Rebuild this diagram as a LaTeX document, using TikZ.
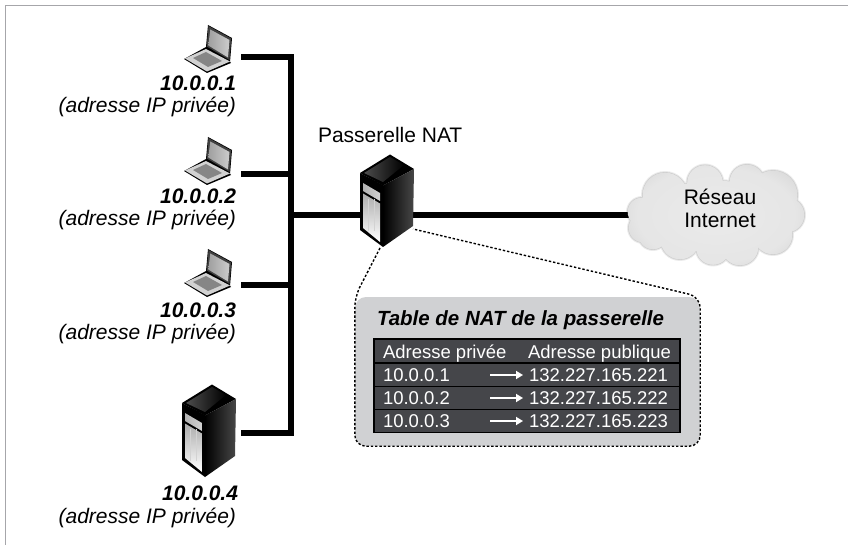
\documentclass[tikz,border=0pt]{standalone}
\usepackage{fontspec}
\setmainfont{Liberation Sans}
\usetikzlibrary{arrows.meta,calc}
\definecolor{rowgray}{HTML}{45464A}
\definecolor{boxgray}{HTML}{D0D1D3}
\definecolor{framegray}{HTML}{A6A6AA}
\newcommand{\fsz}[1]{\fontsize{#1}{#1}\selectfont}
\pgfdeclareradialshading{cloudshade}{\pgfpointorigin}{
  color(0bp)=(white!92!black); color(20bp)=(white!90!black); color(32bp)=(white!80!black);
  color(42bp)=(white!70!black); color(50bp)=(white!66!black)}
\newcommand{\cloudlobes}[1]{%
  (642,212) circle ({15+#1}) (643,228) circle ({15+#1}) (665,195) circle ({23+#1})
  (705,183) circle ({18.5+#1}) (747,182) circle ({18+#1}) (773,195) circle ({25+#1})
  (787,215) circle ({18+#1}) (773,235) circle ({20+#1}) (740,247) circle ({19+#1})
  (713,248) circle ({17.5+#1}) (680,240) circle ({20+#1}) (653,235) circle ({15+#1})
  (715,215) ellipse ({70+#1} and {35+#1})}
\tikzset{
  lbl/.style={inner sep=0pt,outer sep=0pt,anchor=base east,font=\fsz{21}\itshape},
  lblb/.style={inner sep=0pt,outer sep=0pt,anchor=base east,font=\fsz{21}\bfseries\itshape},
  plain/.style={inner sep=0pt,outer sep=0pt,font=\fsz{21}},
  cell/.style={inner sep=0pt,outer sep=0pt,anchor=base west,text=white,font=\fsz{18.5}},
  rowbox/.style={fill=rowgray,draw=none,inner sep=0pt,minimum width=304,anchor=north west},
  bus/.style={line width=5.3pt,black,line cap=butt,line join=miter},
  dots/.style={line width=1.4pt,black,dash pattern=on 2.4pt off 1.9pt},
  arr/.style={white,line width=2.3pt,-{Triangle[length=7pt,width=8pt]}},
  laptop/.pic={
    \fill[black] (208,25) -- (232,38) -- (230,62) -- (231,63) -- (207,73) -- (184,59) -- (206,47) -- cycle;
    \fill[gray!35] (185,58.5) -- (206,49) -- (230,61.5) -- (207,71.5) -- cycle;
    \fill[gray!95] (193,58) -- (206,52) -- (222,61) -- (208,67) -- cycle;
    \fill[black!75] (208.5,26) -- (231.3,38.5) -- (229.5,60) -- (206.7,46.5) -- cycle;
    \shade[left color=gray!75,right color=gray!40] (210.3,29.5) -- (229.5,40) -- (228,57.5) -- (208.3,45.5) -- cycle;
  },
  server/.pic={
    \fill[black] (212,384.5) -- (236,399) -- (205,415.5) -- (182,403) -- cycle;
    \shade[left color=black!70,right color=black] (212,387) -- (226,395) -- (205,412) -- (186,403) -- cycle;
    \fill[black] (182,403) -- (205,415) -- (205,477) -- (182,460) -- cycle;
    \shade[left color=black,right color=black!72] (205,415.5) -- (236,399) -- (235,456) -- (205,477) -- cycle;
    \shade[left color=gray!60,right color=gray!35] (185,413) -- (202,423) -- (202,431) -- (185,421) -- cycle;
    \shade[top color=gray!65,bottom color=white] (185,423.5) -- (202,433.5) -- (202,472) -- (185,458) -- cycle;
    \foreach \sx in {190,196}{\draw[gray!35,line width=.4pt] (\sx,429) -- (\sx,461);}
  }
}
\begin{document}
\begin{tikzpicture}[x=1pt,y=-1pt]
\useasboundingbox (0,0) rectangle (848,545);
\draw[framegray,line width=1pt] (848,6) -- (5,6) -- (5,545);
\coordinate (bt) at (291,57);
\coordinate (bb) at (291,433);
\coordinate (jn) at (291,215);
\pic (l1) at (0,0) {laptop};
\pic (l2) at (0,112) {laptop};
\pic (l3) at (0,224) {laptop};
\pic (s4) at (0,0) {server};
\coordinate (l1e) at (241,57);
\coordinate (l2e) at (241,174);
\coordinate (l3e) at (241,285);
\coordinate (s4e) at (241,433);
\draw[bus] (l1e) -- (bt) -- (bb) -- (s4e);
\draw[bus] (l2e) -- (l2e -| bt);
\draw[bus] (l3e) -- (l3e -| bt);
\coordinate (cl) at (655,215);
\draw[bus] (jn) -- (cl);
% cloud
\fill[black,opacity=.08] \cloudlobes{1};
\fill[black,opacity=.12] \cloudlobes{0};
\begin{scope}
\clip \cloudlobes{-0.7};
\shade[shading=cloudshade] (716,215) ellipse (100 and 60);
\end{scope}
\node[plain,anchor=base] (cloudt) at (720,205) {Réseau};
\node[plain,anchor=base] (cloudb) at (720,228) {Internet};
% gateway
\pic (gw) at (178,-230) {server};
\coordinate (gwf) at (380,248);
\coordinate (gwr) at (413,229);
\node[plain,anchor=base west] (gwl) at (318,143) {Passerelle NAT};
\node[lblb] (a1) at (236,91) {10.0.0.1};
\node[lbl] (b1) at (236,113) {(adresse IP privée)};
\node[lblb] (a2) at (236,204) {10.0.0.2};
\node[lbl] (b2) at (236,226) {(adresse IP privée)};
\node[lblb] (a3) at (236,317) {10.0.0.3};
\node[lbl] (b3) at (236,339) {(adresse IP privée)};
\node[lblb] (a4) at (238,500) {10.0.0.4};
\node[lbl] (b4) at (236,523) {(adresse IP privée)};
% table box
\node[fill=boxgray,rounded corners=11pt,minimum width=345,minimum height=149,inner sep=0pt] (box) at (527.5,371.5) {};
\draw[dots,rounded corners=11pt] (gwf) -- (box.north west) -- (box.south west) -- (box.south east) -- (box.north east) -- (gwr);
\fill[black] (373,338) rectangle (681,433);
\node[inner sep=0pt,outer sep=0pt,anchor=base west,font=\fsz{20.5}\bfseries\itshape] (ttl) at (377,325) {Table de NAT de la passerelle};
\node[rowbox,minimum height=22.5] (r0) at (375,339.5) {};
\node[rowbox,minimum height=22] (r1) at (375,363.5) {};
\node[rowbox,minimum height=21.5] (r2) at (375,387) {};
\node[rowbox,minimum height=21.5] (r3) at (375,410) {};
\node[cell] (h1) at (383,358) {Adresse privée};
\node[cell] (h2) at (528,358) {Adresse publique};
\node[cell] (p1) at (383,381) {10.0.0.1};
\node[cell] (q1) at (529,381) {132.227.165.221};
\node[cell] (p2) at (383,404) {10.0.0.2};
\node[cell] (q2) at (529,404) {132.227.165.222};
\node[cell] (p3) at (383,427) {10.0.0.3};
\node[cell] (q3) at (529,427) {132.227.165.223};
\draw[arr] (490,375) -- (523,375);
\draw[arr] (490,398) -- (523,398);
\draw[arr] (490,421) -- (523,421);
\end{tikzpicture}
\end{document}
